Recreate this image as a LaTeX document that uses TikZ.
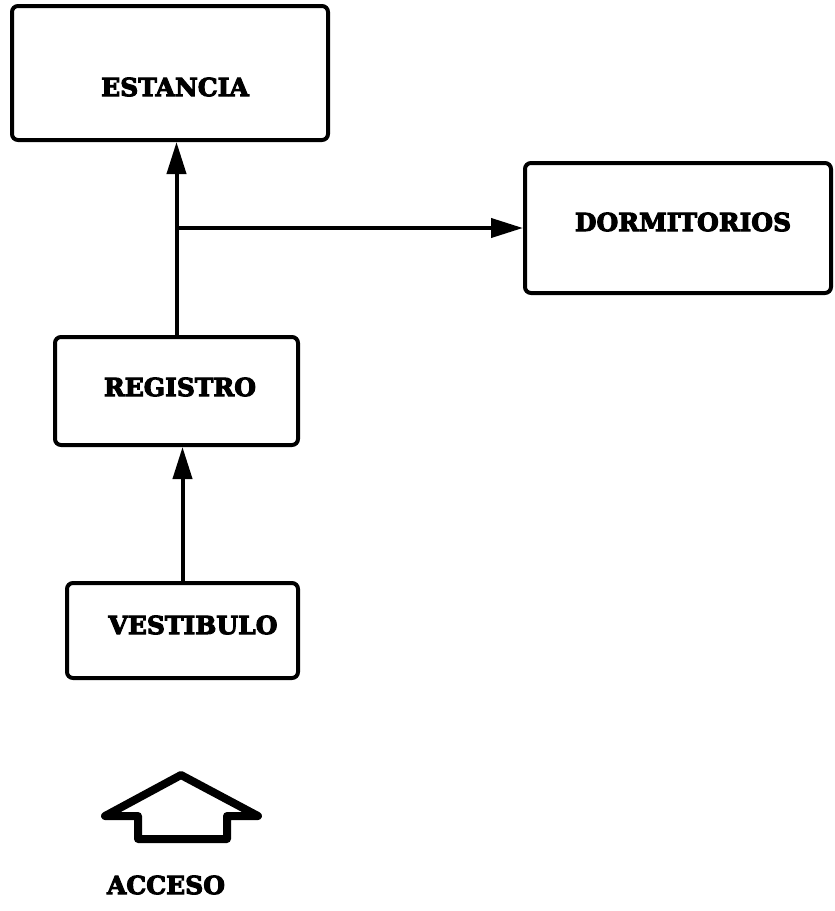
\documentclass[tikz,border=0pt]{standalone}
\usepackage{fontspec}
\setmainfont{DejaVu Serif}
\newfontfamily\heavyfont{DejaVu Serif Bold}[FakeBold=4]
\usetikzlibrary{arrows.meta}
\begin{document}
\begin{tikzpicture}[x=1pt,y=-1pt,
  room/.style={draw, line width=4pt, rounded corners=6pt, inner sep=0pt},
  lbl/.style={font=\fontsize{25}{25}\heavyfont, inner sep=0pt},
  conn/.style={line width=4pt, -{Triangle[length=32pt,width=19pt]}},
  house/.style={line width=8pt, line join=round}]
\useasboundingbox (0,0) rectangle (835,911);
\node[room, minimum width=316pt, minimum height=134pt] (est) at (170,73) {};
\node[room, minimum width=306pt, minimum height=130pt] (dorm) at (678,228) {};
\node[room, minimum width=243pt, minimum height=108pt] (reg) at (176.5,391) {};
\node[room, minimum width=231pt, minimum height=95pt] (vest) at (182.5,630.5) {};
\node[lbl] (testa) at (175,87) {ESTANCIA};
\node[lbl] (tdorm) at (683,222) {DORMITORIOS};
\node[lbl] (treg) at (180,387) {REGISTRO};
\node[lbl] (tvest) at (193,625) {VESTIBULO};
\node[lbl] (tacc) at (166,885) {ACCESO};
\draw[conn] (reg.north) -- (reg.north |- est.south);
\coordinate (j) at (176.5,228);
\draw[conn] (j) -- (j -| dorm.west);
\draw[conn] (vest.north) -- (vest.north |- reg.south);
\draw[house] (181,775) -- (105,816) -- (138,816) -- (138,839) -- (227,839) -- (227,816) -- (258,816) -- cycle;
\end{tikzpicture}
\end{document}
